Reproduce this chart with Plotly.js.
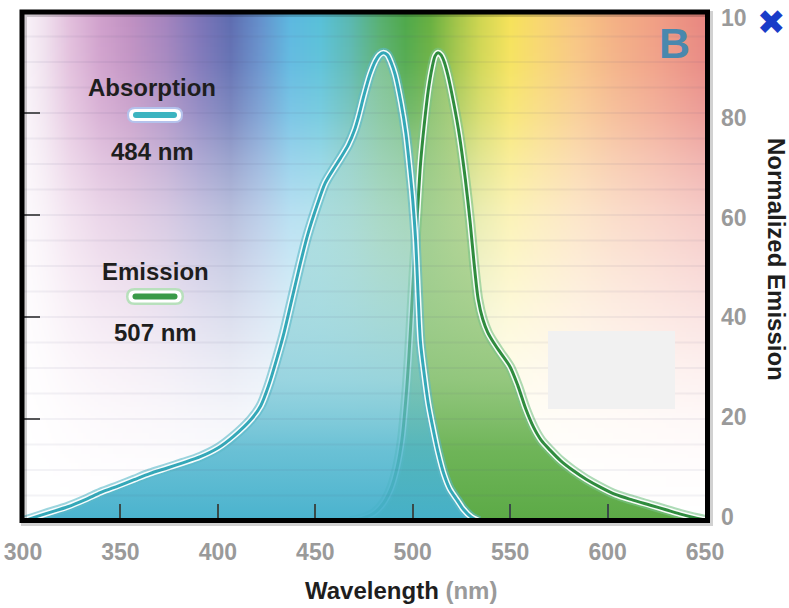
<!DOCTYPE html>
<html>
<head>
<meta charset="utf-8">
<script src="https://cdn.plot.ly/plotly-3.0.1.min.js"></script>
<style>html,body{margin:0;padding:0;background:#fff;}#chart{width:789px;height:608px;}</style>
</head>
<body>
<div id="chart"></div>
<script>
// ---- data ----
const absWl  = [300,305,313,323,332,340,349,357,365,374,382,391,400,408,417,422,426,430,434,438,442,446,451,455,459,463,467,470,472,475,478,481,483,485,487,489,491,494,496.5,498.5,500,501.5,502.8,504,506,508,510.5,513,516,519,523,526,530,534];
const absVal = [0,0.6,1.6,2.8,4.2,5.6,6.9,8.1,9.3,10.4,11.4,12.6,14.3,16.6,19.9,22.6,26.5,31.5,37,43.5,50,56,62,66.2,68.8,71.2,73.8,76.5,79,83.5,87.5,90.3,91.4,91.8,91.4,89.8,87.5,82,76,69,63,55,44,35,28.5,23,18,13.5,9.2,6.3,4,2.3,0.8,0];
const emWl   = [468,474,480,485,489,492,494.5,496.5,498,499.5,501,502.5,504,506,508,510,511.5,513,514.5,516,518,521,524,527,529.5,531.5,533.6,536,538.5,541.5,545,550,554,558,562,566,570.5,576,582,589,596,604,613,622,630,637,643,650];
const emVal  = [0,0.5,1.5,3.5,6.5,10.5,16,24,32,42,52,61,70,78,84.5,89,91.2,91.8,91.4,90.2,87.5,82,75.5,67,58.5,50.5,43.5,39.5,37,35,33,30.2,26.5,22,18.4,15.8,13.9,11.8,10,8.2,6.7,5.2,4.1,3.1,2.2,1.4,0.8,0.2];
const xTicks = [300,350,400,450,500,550,600,650];
const yTicks = [0,20,40,60,80,100];
const legendNames = ['Absorption','Emission'];
const legendPeaks = ['484 nm','507 nm'];
// background spectrum (decoration)
const bgWl = [300,311.3,324.1,339.5,354.9,372.9,390.8,406.2,421.6,437,452.4,467.8,483.2,496,508.9,521.7,534.5,549.9,565.3,583.3,603.8,626.9,650];
const bgCol = ['#faf5fa','#f0e0ee','#e2bedc','#d0a0cc','#c090c2','#a484be','#7c74b8','#5e6cb0','#6490cc','#5cb8e0','#58c0d8','#5ab8b0','#58b070','#4ea84a','#68b040','#a0c448','#d0d650','#f6e25a','#f8d670','#f8c682','#f4b084','#f09c84','#e88680'];
const fadeV = [0,10,20,30,40,50,60,70,80,90,100];
const fadeA = [1,0.98,0.94,0.87,0.78,0.68,0.57,0.4,0.2,0.06,0];

// ---- geometry helpers (pixel -> paper) ----
const L=23, T=11, W=682, H=510;
const px = x => (x-L)/W;
const py = y => 1-(y-T)/H;

function pill(cx, cy, w, h){
  const r=h/2, x1=cx-w/2+r, x2=cx+w/2-r;
  const P=(x,y)=>px(x)+','+py(y);
  return 'M'+P(x1,cy-r)+' L'+P(x2,cy-r)+' Q'+P(x2+r,cy-r)+' '+P(x2+r,cy)+' Q'+P(x2+r,cy+r)+' '+P(x2,cy+r)+
         ' L'+P(x1,cy+r)+' Q'+P(x1-r,cy+r)+' '+P(x1-r,cy)+' Q'+P(x1-r,cy-r)+' '+P(x1,cy-r)+' Z';
}

const traces = [];
// rainbow background
traces.push({type:'heatmap', x:bgWl, y:[0,100], z:[bgWl,bgWl], zmin:300, zmax:650,
  colorscale: bgWl.map((w,i)=>[(w-300)/350, bgCol[i]]), zsmooth:'best', showscale:false, hoverinfo:'skip'});
// white fade to bottom
traces.push({type:'heatmap', x:[300,650], y:fadeV, z:fadeV.map(v=>[v,v]), zmin:0, zmax:100,
  colorscale: fadeV.map((v,i)=>[v/100, 'rgba(255,255,255,'+fadeA[i]+')']), zsmooth:'best', showscale:false, hoverinfo:'skip'});

function curve(xs, ys, fillScale, halo, core){
  traces.push({type:'scatter', mode:'lines', x:xs, y:ys, fill:'tozeroy',
    line:{width:0, color:'rgba(0,0,0,0)', shape:'spline', smoothing:0.8},
    fillgradient:{type:'vertical', start:0, stop:92, colorscale:fillScale}, hoverinfo:'skip', showlegend:false});
  traces.push({type:'scatter', mode:'lines', x:xs, y:ys, line:{width:10, color:halo, shape:'spline', smoothing:0.8}, hoverinfo:'skip', showlegend:false});
  traces.push({type:'scatter', mode:'lines', x:xs, y:ys, line:{width:6, color:'rgba(255,255,255,0.95)', shape:'spline', smoothing:0.8}, hoverinfo:'skip', showlegend:false});
  traces.push({type:'scatter', mode:'lines', x:xs, y:ys, line:{width:3, color:core, shape:'spline', smoothing:0.8}, hoverinfo:'skip', showlegend:false});
}
curve(emWl, emVal,
  [[0,'rgba(88,168,66,0.98)'],[0.15,'rgba(98,174,74,0.92)'],[0.3,'rgba(118,184,94,0.78)'],[0.6,'rgba(140,195,120,0.58)'],[1,'rgba(170,210,150,0.45)']],
  'rgba(120,195,135,0.6)', '#2f8c3e');
curve(absWl, absVal,
  [[0,'rgba(68,176,204,0.97)'],[0.15,'rgba(80,182,206,0.85)'],[0.3,'rgba(110,195,210,0.66)'],[0.6,'rgba(150,210,205,0.46)'],[1,'rgba(180,220,200,0.4)']],
  'rgba(90,185,200,0.6)', '#34a8b8');
// dummy trace for the right axis
traces.push({type:'scatter', mode:'markers', x:[null], y:[null], yaxis:'y2', hoverinfo:'skip', showlegend:false});

const shapes = [];
// faint horizontal stripes
for (let v=5; v<100; v+=5){
  shapes.push({type:'line', xref:'paper', yref:'y', x0:0, x1:1, y0:v, y1:v, layer:'above',
    line:{color:'rgba(90,90,130,0.07)', width:2}});
}
// gray box
shapes.push({type:'rect', xref:'paper', yref:'paper', x0:px(548), x1:px(675), y0:py(409), y1:py(331),
  fillcolor:'#f1f1f1', line:{width:0}, layer:'above'});
// frame shadow + frame
shapes.push({type:'rect', xref:'paper', yref:'paper', x0:px(24), x1:px(710), y0:py(523), y1:py(14),
  line:{color:'rgba(0,0,0,0.18)', width:6}, layer:'above'});
shapes.push({type:'rect', xref:'paper', yref:'paper', x0:px(22), x1:px(707.5), y0:py(520.5), y1:py(12),
  line:{color:'#000', width:5}, layer:'above'});
// legend pills
shapes.push({type:'path', xref:'paper', yref:'paper', path:pill(155,115,56,16), fillcolor:'#b4c2ec', line:{width:0}, layer:'above'});
shapes.push({type:'path', xref:'paper', yref:'paper', path:pill(155,115,52,12), fillcolor:'#ffffff', line:{width:0}, layer:'above'});
shapes.push({type:'path', xref:'paper', yref:'paper', path:pill(155,115,44,6), fillcolor:'#3cb4c0', line:{width:0}, layer:'above'});
shapes.push({type:'path', xref:'paper', yref:'paper', path:pill(155,296.5,58,17), fillcolor:'#b8e0bc', line:{width:0}, layer:'above'});
shapes.push({type:'path', xref:'paper', yref:'paper', path:pill(155,296.5,53,12), fillcolor:'#ffffff', line:{width:0}, layer:'above'});
shapes.push({type:'path', xref:'paper', yref:'paper', path:pill(155,296.5,45,6), fillcolor:'#3a9a48', line:{width:0}, layer:'above'});
// mask that clips the "100" label
shapes.push({type:'rect', xref:'paper', yref:'paper', x0:px(746.5), x1:px(760), y0:py(34), y1:py(0),
  fillcolor:'#ffffff', line:{width:0}, layer:'above'});

const F = 'Liberation Sans, Arial, Helvetica, sans-serif';
const ann = (x,y,text,size,color,extra)=>Object.assign({xref:'paper', yref:'paper', x:px(x), y:py(y), text:text,
  showarrow:false, xanchor:'center', yanchor:'middle', font:{family:F, size:size, color:color}}, extra||{});
const annotations = [
  ann(152,87,'<b>'+legendNames[0]+'</b>',24,'#1e1e1e'),
  ann(152,151,'<b>'+legendPeaks[0]+'</b>',24,'#1e1e1e'),
  ann(155,271,'<b>'+legendNames[1]+'</b>',24,'#1e1e1e'),
  ann(155,332,'<b>'+legendPeaks[1]+'</b>',24,'#1e1e1e'),
  ann(674,43,'<b>B</b>',43,'#4a88ae'),
  ann(772,22,'✖',34,'#1a3cc8',{font:{family:'DejaVu Sans',size:34,color:'#1a3cc8'}}),
  ann(401,590,'<b>Wavelength <span style="color:#9a9a9a">(nm)</span></b>',24,'#1e1e1e'),
  ann(777,260,'<b>Normalized Emission</b>',24,'#1e1e1e',{textangle:90})
];

const tickFont = {family:F, size:23, color:'#9a9a9a', weight:'bold'};
const layout = {
  width:789, height:608,
  margin:{l:L, r:789-L-W, t:T, b:608-T-H, pad:0},
  paper_bgcolor:'#ffffff', plot_bgcolor:'#ffffff',
  showlegend:false,
  xaxis:{range:[300,650], tickvals:xTicks, ticktext:xTicks.map(String), ticks:'inside', ticklen:17, tickwidth:2,
    tickcolor:'#3a4a48', showgrid:false, zeroline:false, showline:false, tickfont:tickFont, ticklabelstandoff:15, fixedrange:true},
  yaxis:{range:[0,100], tickvals:[20,40,60,80], ticks:'inside', ticklen:17, tickwidth:2, tickcolor:'#555',
    showticklabels:false, showgrid:false, zeroline:false, showline:false, fixedrange:true},
  yaxis2:{range:[-0.8,101.4], overlaying:'y', side:'right', anchor:'x', tickvals:yTicks, ticktext:yTicks.map(String), ticks:'',
    showgrid:false, zeroline:false, showline:false, tickfont:tickFont, ticklabelstandoff:15, fixedrange:true},
  shapes:shapes,
  annotations:annotations
};
Plotly.newPlot('chart', traces, layout, {staticPlot:true, displayModeBar:false});
</script>
</body>
</html>
